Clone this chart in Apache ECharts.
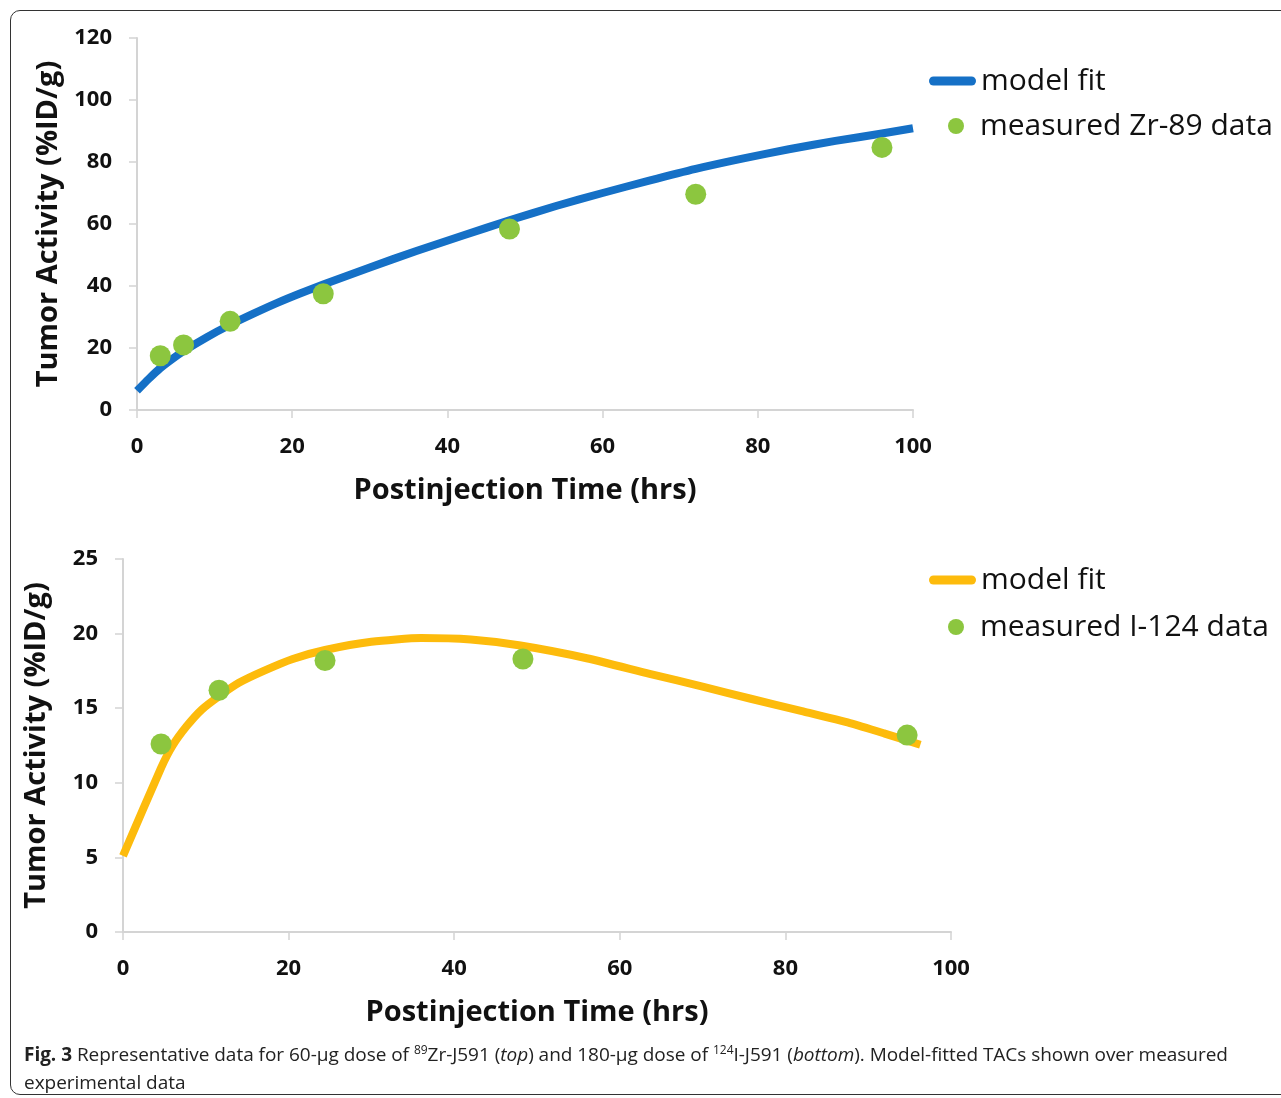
<!DOCTYPE html>
<html>
<head>
<meta charset="utf-8">
<script src="https://cdn.jsdelivr.net/npm/echarts@6/dist/echarts.min.js"></script>
<style>
  html, body { margin: 0; padding: 0; background: #fff; overflow: hidden; }
  #frame { position: absolute; left: 10px; top: 10px; width: 1320px; height: 1085px;
           border: 1.5px solid #333; border-radius: 10px; box-sizing: border-box; }
  #chart { position: absolute; left: 0; top: 0; width: 1281px; height: 1098px; }
  #caption { position: absolute; left: 24px; top: 1040px; width: 1250px;
             font-family: "Open Sans", sans-serif; font-size: 19px; line-height: 28px; color: #222; letter-spacing: -0.03px; }
  #caption sup { font-size: 12px; vertical-align: 7px; line-height: 0; }
</style>
</head>
<body>
<div id="frame"></div>
<div id="chart"></div>
<div id="caption"><b>Fig. 3</b> Representative data for 60-μg dose of <sup>89</sup>Zr-J591 (<i>top</i>) and 180-μg dose of <sup>124</sup>I-J591 (<i>bottom</i>). Model-fitted TACs shown over measured experimental data</div>
<script>
// ---- data ----
const xTicks = [0, 20, 40, 60, 80, 100];
const topYTicks = [0, 20, 40, 60, 80, 100, 120];
const botYTicks = [0, 5, 10, 15, 20, 25];

const topTime = [3, 6, 12, 24, 48, 72, 96];
const topMeasured = [17.5, 21, 28.6, 37.5, 58.4, 69.6, 84.7];
const topFitTime = [0, 1.5, 3, 4.5, 6, 9, 12, 15, 18, 21, 24, 30, 36, 42, 48, 54, 60, 66, 72, 78, 84, 90, 96, 100];
const topFitValue = [6.2, 10, 13.5, 16.4, 19, 23.5, 27.5, 31.1, 34.5, 37.6, 40.5, 46, 51.3, 56.3, 61.2, 65.8, 70.0, 74.0, 77.8, 81.1, 84.1, 86.8, 89.2, 90.9];

const botTime = [4.6, 11.6, 24.4, 48.3, 94.7];
const botMeasured = [12.6, 16.2, 18.2, 18.3, 13.2];
const botFitTime = [0, 4.6, 6, 7.7, 9.5, 11.6, 14, 17, 20.5, 24.4, 30, 36, 42, 48, 56, 63.6, 70, 75.7, 82, 87.8, 92, 96.3];
const botFitValue = [5.1, 11.0, 12.5, 13.8, 14.9, 15.8, 16.7, 17.5, 18.3, 18.9, 19.45, 19.7, 19.6, 19.2, 18.35, 17.3, 16.45, 15.65, 14.8, 14.0, 13.3, 12.55];

const seriesNames = ['model fit', 'measured Zr-89 data', 'model fit ', 'measured I-124 data'];
const xTitle = 'Postinjection Time (hrs)';
const yTitle = 'Tumor Activity (%ID/g)';

// ---- styles ----
const BLUE = '#1570c6', GOLD = '#fdbb0c', GREEN = '#8cc63f', AXIS = '#d4d4d4';
const FONT = '"Open Sans", sans-serif';
const pair = (xs, ys) => xs.map((x, i) => [x, ys[i]]);

function xAxis(gridIndex) {
  return {
    type: 'value', gridIndex, min: xTicks[0], max: xTicks[xTicks.length - 1], interval: xTicks[1] - xTicks[0],
    name: xTitle, nameLocation: 'middle', nameGap: 66,
    nameTextStyle: { fontFamily: FONT, fontWeight: 'bold', fontSize: 29, color: '#111' },
    axisLine: { lineStyle: { color: AXIS, width: 2 } },
    axisTick: { show: true, inside: false, length: 8, lineStyle: { color: AXIS, width: 1.5 } },
    splitLine: { show: false },
    axisLabel: { margin: 26, fontFamily: FONT, fontWeight: 'bold', fontSize: 22, color: '#111' }
  };
}
function yAxis(gridIndex, ticks) {
  return {
    type: 'value', gridIndex, min: ticks[0], max: ticks[ticks.length - 1], interval: ticks[1] - ticks[0],
    name: yTitle, nameLocation: 'middle', nameGap: 72, nameRotate: 90,
    nameTextStyle: { fontFamily: FONT, fontWeight: 'bold', fontSize: 29, color: '#111' },
    axisLine: { show: true, lineStyle: { color: AXIS, width: 2 } },
    axisTick: { show: true, inside: false, length: 8, lineStyle: { color: AXIS, width: 1.5 } },
    splitLine: { show: false },
    axisLabel: { margin: 25, fontFamily: FONT, fontWeight: 'bold', fontSize: 22, color: '#111' }
  };
}
function legend(name, top, left, icon, w, h, color) {
  return {
    left, top, padding: 0, orient: 'vertical', itemWidth: w, itemHeight: h,
    selectedMode: false,
    textStyle: { fontFamily: FONT, fontSize: 30, color: '#111' },
    data: [{ name, icon, itemStyle: { color, borderWidth: 0 } }]
  };
}
const capsule = 'path://M4.5,0 L42.5,0 A4.5,4.5 0 0 1 42.5,9 L4.5,9 A4.5,4.5 0 0 1 4.5,0 Z';

const chart = echarts.init(document.getElementById('chart'), null, { renderer: 'canvas' });
chart.setOption({
  animation: false,
  backgroundColor: 'transparent',
  grid: [
    { left: 137, top: 38, width: 776, height: 372 },
    { left: 123, top: 559, width: 828, height: 373 }
  ],
  xAxis: [xAxis(0), xAxis(1)],
  yAxis: [yAxis(0, topYTicks), yAxis(1, botYTicks)],
  legend: [
    legend(seriesNames[0], 66, 929, capsule, 47, 9, BLUE),
    legend(seriesNames[1], 111, 948, 'circle', 38, 16, GREEN),
    legend(seriesNames[2], 565, 929, capsule, 47, 9, GOLD),
    legend(seriesNames[3], 612, 948, 'circle', 38, 16, GREEN)
  ],
  series: [
    { name: seriesNames[0], type: 'line', xAxisIndex: 0, yAxisIndex: 0, data: pair(topFitTime, topFitValue),
      smooth: 0.2, symbol: 'none', lineStyle: { color: BLUE, width: 8, join: 'round', cap: 'butt' }, itemStyle: { color: BLUE }, z: 2 },
    { name: seriesNames[1], type: 'scatter', xAxisIndex: 0, yAxisIndex: 0, data: pair(topTime, topMeasured),
      symbol: 'circle', symbolSize: 21, itemStyle: { color: GREEN, opacity: 1 }, z: 3 },
    { name: seriesNames[2], type: 'line', xAxisIndex: 1, yAxisIndex: 1, data: pair(botFitTime, botFitValue),
      smooth: 0.2, symbol: 'none', lineStyle: { color: GOLD, width: 8, join: 'round', cap: 'butt' }, itemStyle: { color: GOLD }, z: 2 },
    { name: seriesNames[3], type: 'scatter', xAxisIndex: 1, yAxisIndex: 1, data: pair(botTime, botMeasured),
      symbol: 'circle', symbolSize: 21, itemStyle: { color: GREEN, opacity: 1 }, z: 3 }
  ]
});
</script>
</body>
</html>
